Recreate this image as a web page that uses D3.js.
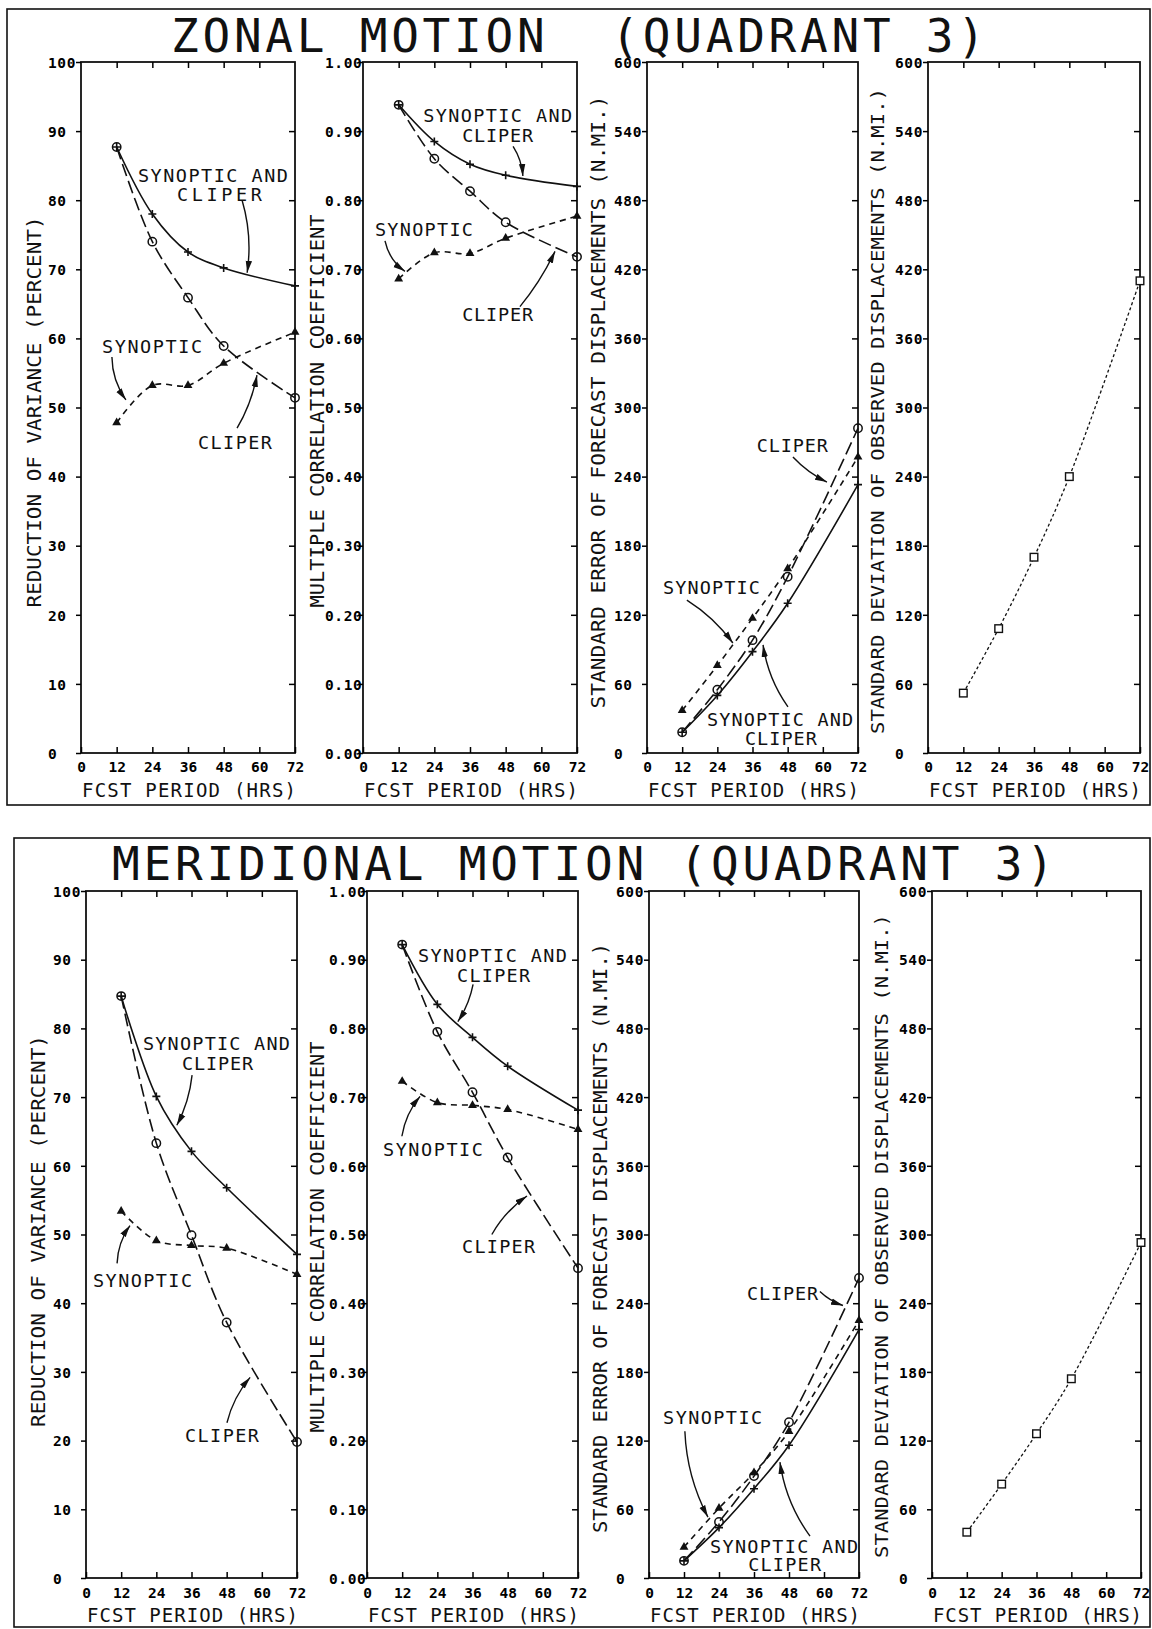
<!DOCTYPE html>
<html><head><meta charset="utf-8">
<script src="https://cdn.jsdelivr.net/npm/d3@7"></script>
<style>
body{margin:0;background:#fff}
svg{display:block}
</style>
</head><body>
<svg id="c" width="1152" height="1629"></svg>
<script>
// ---------------- data ----------------
const hours = [12, 24, 36, 48, 72];
const xTickValues = [0, 12, 24, 36, 48, 60, 72];
const xTickLabels = ["0", "12", "24", "36", "48", "60", "72"];
const rvTicks = [0, 10, 20, 30, 40, 50, 60, 70, 80, 90, 100];
const rvTickLabels = ["0", "10", "20", "30", "40", "50", "60", "70", "80", "90", "100"];
const mccTicks = [0, 0.1, 0.2, 0.3, 0.4, 0.5, 0.6, 0.7, 0.8, 0.9, 1.0];
const mccTickLabels = ["0.00", "0.10", "0.20", "0.30", "0.40", "0.50", "0.60", "0.70", "0.80", "0.90", "1.00"];
const nmiTicks = [0, 60, 120, 180, 240, 300, 360, 420, 480, 540, 600];
const nmiTickLabels = ["0", "60", "120", "180", "240", "300", "360", "420", "480", "540", "600"];

// Zonal motion (quadrant 3)
const zonalRvSynCli   = [87.7, 78.0, 72.5, 70.2, 67.6];
const zonalRvCliper   = [87.7, 74.0, 65.9, 58.9, 51.4];
const zonalRvSynoptic = [47.8, 53.2, 53.2, 56.4, 60.9];
const zonalMccSynCli   = [0.938, 0.885, 0.852, 0.836, 0.820];
const zonalMccCliper   = [0.938, 0.860, 0.813, 0.768, 0.718];
const zonalMccSynoptic = [0.686, 0.724, 0.723, 0.745, 0.777];
const zonalSeSynCli   = [18, 50, 88, 130, 233];
const zonalSeCliper   = [18, 55, 98, 153, 282];
const zonalSeSynoptic = [37, 76, 117, 160, 257];
const zonalSdObserved = [52, 108, 170, 240, 410];

// Meridional motion (quadrant 3)
const meridRvSynCli   = [84.7, 70.1, 62.1, 56.8, 47.1];
const meridRvCliper   = [84.7, 63.3, 49.9, 37.2, 19.8];
const meridRvSynoptic = [53.4, 49.1, 48.4, 48.0, 44.2];
const meridMccSynCli   = [0.922, 0.835, 0.787, 0.745, 0.681];
const meridMccCliper   = [0.922, 0.795, 0.707, 0.612, 0.451];
const meridMccSynoptic = [0.723, 0.692, 0.688, 0.682, 0.653];
const meridSeSynCli   = [15, 44, 78, 116, 217];
const meridSeCliper   = [15, 49, 89, 136, 262];
const meridSeSynoptic = [27, 61, 92, 128, 225];
const meridSdObserved = [40, 82, 126, 174, 293];

const rowTitles = ["ZONAL MOTION  (QUADRANT 3)", "MERIDIONAL MOTION (QUADRANT 3)"];
const yTitles = ["REDUCTION OF VARIANCE (PERCENT)", "MULTIPLE CORRELATION COEFFICIENT",
  "STANDARD ERROR OF FORECAST DISPLACEMENTS (N.MI.)", "STANDARD DEVIATION OF OBSERVED DISPLACEMENTS (N.MI.)"];
const xTitle = "FCST PERIOD (HRS)";

// ---------------- layout ----------------
const FONT = "'DejaVu Sans Mono', monospace";
const rows = [
  {y0: 62, y1: 753, tx: 171, ty: 52, tlen: 814, xlabY: 767, xtitY: 790,
   cols: [[81, 295], [363, 577], [647, 858], [928, 1140]],
   ytit: [[34, 412, 391], [317, 411, 393], [598, 402, 613], [878, 411, 646]],
   frame: [7, 9, 1143, 796]},
  {y0: 891, y1: 1578, tx: 112, ty: 880, tlen: 942, xlabY: 1593, xtitY: 1615,
   cols: [[86, 297], [367, 578], [649, 859], [932, 1141]],
   ytit: [[38, 1231, 392], [317, 1237, 391], [600, 1238, 590], [882, 1236, 644]],
   frame: [14, 838, 1136, 789]}
];
const labOffsets = [-33, -38, -33, -33];

const svg = d3.select("#c");
svg.append("defs").append("marker")
  .attr("id", "ah").attr("markerUnits", "userSpaceOnUse")
  .attr("markerWidth", 14).attr("markerHeight", 10)
  .attr("refX", 12).attr("refY", 4).attr("orient", "auto")
  .append("path").attr("d", "M0,0.8 L12,4 L0,7.2 Z").attr("fill", "#111");

// frames & titles
rows.forEach((r, ri) => {
  svg.append("rect").attr("x", r.frame[0]).attr("y", r.frame[1])
    .attr("width", r.frame[2]).attr("height", r.frame[3])
    .attr("fill", "none").attr("stroke", "#111").attr("stroke-width", 1.6);
  svg.append("text").attr("x", r.tx).attr("y", r.ty)
    .attr("font-family", FONT).attr("font-size", 46).attr("fill", "#111")
    .attr("textLength", r.tlen).attr("lengthAdjust", "spacing")
    .style("white-space", "pre")
    .text(rowTitles[ri]);
});

const panelDefs = [
  // row 0
  {domain: [0, 100], ticks: rvTicks, labels: rvTickLabels,
   series: [["syncli", zonalRvSynCli], ["cliper", zonalRvCliper], ["synoptic", zonalRvSynoptic]],
   notes: [{t: "SYNOPTIC AND", h: 44.4, v: 83.6, w: 150}, {t: "CLIPER", h: 46.6, v: 80.8, w: 85},
           {t: "SYNOPTIC", h: 23.9, v: 58.8, w: 100}, {t: "CLIPER", h: 51.8, v: 44.9, w: 74}],
   arrows: [[54.2, 80.0, 55.9, 69.5, -8], [10.4, 57.3, 15.1, 51.1, 7], [52.5, 47.0, 59.2, 54.7, 5]]},
  {domain: [0, 1], ticks: mccTicks, labels: mccTickLabels,
   series: [["syncli", zonalMccSynCli], ["cliper", zonalMccCliper], ["synoptic", zonalMccSynoptic]],
   notes: [{t: "SYNOPTIC AND", h: 45.3, v: 0.922, w: 149}, {t: "CLIPER", h: 45.3, v: 0.894, w: 71},
           {t: "SYNOPTIC", h: 20.5, v: 0.758, w: 98}, {t: "CLIPER", h: 45.3, v: 0.635, w: 71}],
   arrows: [[50.5, 0.878, 53.8, 0.835, -4], [7.4, 0.741, 14.1, 0.697, 7], [52.8, 0.646, 64.6, 0.726, 4]]},
  {domain: [0, 600], ticks: nmiTicks, labels: nmiTickLabels,
   series: [["syncli", zonalSeSynCli], ["cliper", zonalSeCliper], ["synoptic", zonalSeSynoptic]],
   notes: [{t: "CLIPER", h: 49.6, v: 266.6, w: 71}, {t: "SYNOPTIC", h: 22.0, v: 144, w: 97},
           {t: "SYNOPTIC AND", h: 45.4, v: 28.7, w: 146}, {t: "CLIPER", h: 45.7, v: 13, w: 72}],
   arrows: [[49.8, 257, 61.4, 235.3, 4], [13.6, 132.8, 29.3, 95.5, -6], [48.1, 40, 39.6, 93.8, -8]]},
  {domain: [0, 600], ticks: nmiTicks, labels: nmiTickLabels,
   series: [["observed", zonalSdObserved]], notes: [], arrows: []},
  // row 1
  {domain: [0, 100], ticks: rvTicks, labels: rvTickLabels,
   series: [["syncli", meridRvSynCli], ["cliper", meridRvCliper], ["synoptic", meridRvSynoptic]],
   notes: [{t: "SYNOPTIC AND", h: 44.5, v: 77.8, w: 147}, {t: "CLIPER", h: 44.9, v: 74.9, w: 71},
           {t: "SYNOPTIC", h: 19.3, v: 43.3, w: 99}, {t: "CLIPER", h: 46.4, v: 20.7, w: 74}],
   arrows: [[36.2, 73.2, 31.0, 65.9, -5], [10.6, 45.8, 15.0, 51.3, -6], [48.1, 22.6, 56.0, 29.2, -6]]},
  {domain: [0, 1], ticks: mccTicks, labels: mccTickLabels,
   series: [["syncli", meridMccSynCli], ["cliper", meridMccCliper], ["synoptic", meridMccSynoptic]],
   notes: [{t: "SYNOPTIC AND", h: 42.8, v: 0.906, w: 149}, {t: "CLIPER", h: 43.2, v: 0.877, w: 73},
           {t: "SYNOPTIC", h: 22.5, v: 0.623, w: 100}, {t: "CLIPER", h: 44.9, v: 0.482, w: 73}],
   arrows: [[36.2, 0.864, 31.0, 0.810, -4], [11.9, 0.643, 18.1, 0.701, -6], [42.6, 0.5, 54.6, 0.556, -6]]},
  {domain: [0, 600], ticks: nmiTicks, labels: nmiTickLabels,
   series: [["syncli", meridSeSynCli], ["cliper", meridSeCliper], ["synoptic", meridSeSynoptic]],
   notes: [{t: "CLIPER", h: 45.8, v: 248.5, w: 71}, {t: "SYNOPTIC", h: 21.8, v: 140.4, w: 99},
           {t: "SYNOPTIC AND", h: 46.3, v: 27.9, w: 148}, {t: "CLIPER", h: 46.5, v: 12.2, w: 73}],
   arrows: [[58.6, 250.2, 66.5, 238, 3], [12.3, 128.2, 20.2, 53.2, 10], [55.2, 36.6, 44.9, 101.2, -10]]},
  {domain: [0, 600], ticks: nmiTicks, labels: nmiTickLabels,
   series: [["observed", meridSdObserved]], notes: [], arrows: []}
];

const styles = {
  syncli:   {dash: null, marker: "plus"},
  cliper:   {dash: "13,5", marker: "circle"},
  synoptic: {dash: "6,5", marker: "triangle"},
  observed: {dash: "3,2.5", marker: "square"}
};

panelDefs.forEach((p, idx) => {
  const ri = Math.floor(idx / 4), ci = idx % 4;
  const r = rows[ri];
  const [x0, x1] = r.cols[ci];
  const y0 = r.y0, y1 = r.y1;
  const x = d3.scaleLinear().domain([0, 72]).range([x0, x1]);
  const y = d3.scaleLinear().domain(p.domain).range([y1, y0]);
  const g = svg.append("g");

  // box
  g.append("rect").attr("x", x0).attr("y", y0).attr("width", x1 - x0).attr("height", y1 - y0)
    .attr("fill", "none").attr("stroke", "#111").attr("stroke-width", 1.8);

  // left axis with labels
  const la = g.append("g").attr("transform", `translate(${x0},0)`)
    .call(d3.axisLeft(y).tickValues(p.ticks).tickFormat((d, i) => p.labels[i]).tickSize(5).tickSizeOuter(0));
  la.select(".domain").remove();
  la.selectAll(".tick line").attr("stroke-width", 1.5);
  la.selectAll(".tick text").attr("x", labOffsets[ci]).attr("text-anchor", "start")
    .attr("dy", "0.36em").attr("font-family", FONT).attr("font-size", 14.5)
    .attr("font-weight", "bold").attr("letter-spacing", 0.6);

  // right axis inward ticks
  const ra = g.append("g").attr("transform", `translate(${x1},0)`)
    .call(d3.axisRight(y).tickValues(p.ticks.slice(1, -1)).tickFormat("").tickSize(-6).tickSizeOuter(0));
  ra.select(".domain").remove();
  ra.selectAll(".tick line").attr("stroke-width", 1.5);

  // top axis inward ticks
  const ta = g.append("g").attr("transform", `translate(0,${y0})`)
    .call(d3.axisTop(x).tickValues(xTickValues.slice(1, -1)).tickFormat("").tickSize(-6).tickSizeOuter(0));
  ta.select(".domain").remove();
  ta.selectAll(".tick line").attr("stroke-width", 1.5);

  // bottom axis
  const ba = g.append("g").attr("transform", `translate(0,${y1})`)
    .call(d3.axisBottom(x).tickValues(xTickValues).tickFormat((d, i) => xTickLabels[i]).tickSize(-6).tickSizeOuter(0));
  ba.select(".domain").remove();
  ba.selectAll(".tick line").attr("stroke-width", 1.5);
  ba.selectAll(".tick text").attr("y", r.xlabY - y1).attr("dy", "0.36em")
    .attr("font-family", FONT).attr("font-size", 14.5).attr("font-weight", "bold");

  // axis titles
  const yt = r.ytit[ci];
  g.append("text").attr("transform", `translate(${yt[0]},${yt[1]}) rotate(-90)`)
    .attr("text-anchor", "middle").attr("dominant-baseline", "central")
    .attr("font-family", FONT).attr("font-size", ci === 3 ? 17 : 19).attr("fill", "#111")
    .attr("textLength", yt[2]).attr("lengthAdjust", "spacingAndGlyphs")
    .text(yTitles[ci]);
  g.append("text").attr("x", (x0 + x1) / 2 + 1).attr("y", r.xtitY)
    .attr("text-anchor", "middle").attr("dominant-baseline", "central")
    .attr("font-family", FONT).attr("font-size", 19).attr("fill", "#111")
    .attr("textLength", x1 - x0).attr("lengthAdjust", "spacing")
    .text(xTitle);

  // series
  const line = d3.line().x((d, i) => x(hours[i])).y(d => y(d)).curve(d3.curveCatmullRom.alpha(0.5));
  p.series.forEach(([kind, vals]) => {
    const st = styles[kind];
    g.append("path").attr("d", line(vals)).attr("fill", "none").attr("stroke", "#111")
      .attr("stroke-width", kind === "observed" ? 1.3 : 1.6)
      .attr("stroke-dasharray", st.dash);
    const mk = g.append("g");
    vals.forEach((v, i) => {
      const cx = x(hours[i]), cy = y(v);
      if (st.marker === "plus") {
        mk.append("path").attr("d", `M${cx - 4},${cy}H${cx + 4}M${cx},${cy - 4}V${cy + 4}`)
          .attr("stroke", "#111").attr("stroke-width", 1.6);
      } else if (st.marker === "circle") {
        mk.append("circle").attr("cx", cx).attr("cy", cy).attr("r", 4.2)
          .attr("fill", "none").attr("stroke", "#111").attr("stroke-width", 1.5);
      } else if (st.marker === "triangle") {
        mk.append("path").attr("d", d3.symbol(d3.symbolTriangle, 34)())
          .attr("transform", `translate(${cx},${cy})`).attr("fill", "#111");
      } else {
        mk.append("rect").attr("x", cx - 3.8).attr("y", cy - 3.8).attr("width", 7.6).attr("height", 7.6)
          .attr("fill", "#fff").attr("stroke", "#111").attr("stroke-width", 1.4);
      }
    });
  });

  // annotations
  p.notes.forEach(n => {
    g.append("text").attr("x", x(n.h)).attr("y", y(n.v))
      .attr("text-anchor", "middle").attr("dominant-baseline", "central")
      .attr("font-family", FONT).attr("font-size", 18.5).attr("fill", "#111")
      .attr("textLength", n.w).attr("lengthAdjust", "spacing")
      .text(n.t);
  });
  p.arrows.forEach(a => {
    const ax = x(a[0]), ay = y(a[1]), bx = x(a[2]), by = y(a[3]);
    const dx = bx - ax, dy = by - ay, len = Math.hypot(dx, dy);
    const mx = (ax + bx) / 2 + a[4] * (-dy / len), my = (ay + by) / 2 + a[4] * (dx / len);
    g.append("path").attr("d", `M${ax},${ay}Q${mx},${my} ${bx},${by}`)
      .attr("fill", "none").attr("stroke", "#111").attr("stroke-width", 1.4)
      .attr("marker-end", "url(#ah)");
  });
});
</script>
</body></html>
